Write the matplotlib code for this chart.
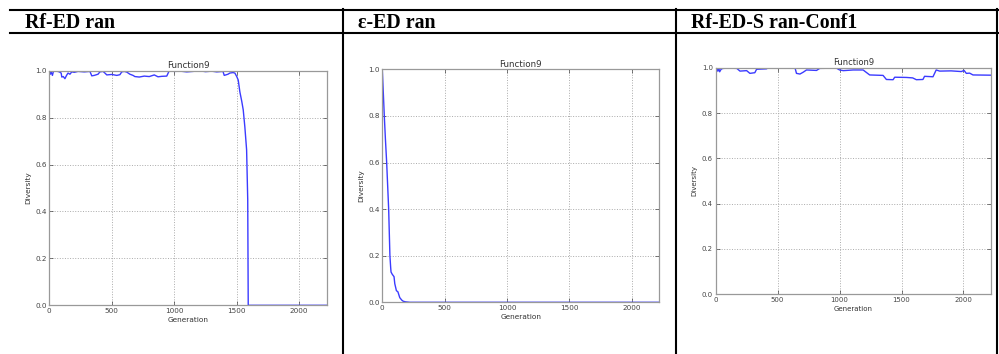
import matplotlib
matplotlib.use("Agg")
import matplotlib.pyplot as plt
from matplotlib.lines import Line2D

# --- Diversity per generation, three runs ---
headers = ["Rf-ED ran", "ε-ED ran", "Rf-ED-S ran-Conf1"]
plot_title = "Function9"

gen_rf = [0, 8, 15, 25, 32, 45, 60, 80, 95, 100, 112, 125, 138, 150, 165, 180, 200, 230,
          280, 325, 340, 360, 390, 405, 430, 445, 460, 500, 540, 565, 580, 600, 620, 645,
          670, 685, 720, 760, 800, 840, 870, 900, 940, 960, 1000, 1050, 1100, 1150, 1200,
          1250, 1300, 1340, 1390, 1400, 1430, 1445, 1470, 1485, 1500, 1512, 1525, 1540,
          1552, 1565, 1579, 1588, 1592, 1600, 1800, 2000, 2220]
div_rf = [1.0, 0.985, 0.995, 0.98, 0.995, 1.0, 0.998, 0.995, 0.99, 0.973, 0.975, 0.966, 0.98,
          0.99, 0.985, 0.995, 0.993, 0.997, 0.995, 0.997, 0.978, 0.98, 0.985, 0.995, 0.997,
          0.99, 0.982, 0.984, 0.98, 0.983, 0.995, 0.997, 0.994, 0.985, 0.98, 0.975, 0.973,
          0.977, 0.975, 0.982, 0.974, 0.976, 0.977, 1.0, 0.997, 0.998, 0.995, 0.997, 1.0,
          0.996, 0.998, 0.995, 0.997, 0.98, 0.985, 0.99, 0.992, 0.99, 0.975, 0.96, 0.91,
          0.87, 0.833, 0.76, 0.663, 0.45, 0.0, 0.0, 0.0, 0.0, 0.0]

gen_eps = [0, 8, 16, 25, 35, 43, 51, 61, 67, 70, 80, 94, 100, 113, 125, 140, 155, 166,
           185, 222, 400, 1000, 1500, 2220]
div_eps = [1.0, 0.9, 0.8, 0.7, 0.6, 0.5, 0.4, 0.2, 0.15, 0.13, 0.12, 0.11, 0.08, 0.05,
           0.045, 0.02, 0.01, 0.005, 0.002, 0.0, 0.0, 0.0, 0.0, 0.0]

gen_rfs = [0, 5, 10, 18, 25, 32, 40, 48, 62, 100, 170, 196, 250, 276, 316, 330, 410,
           425, 500, 640, 652, 680, 706, 733, 814, 840, 975, 1000, 1030, 1110, 1190,
           1243, 1351, 1378, 1432, 1445, 1540, 1590, 1620, 1673, 1686, 1754, 1780, 1808,
           1900, 1983, 2005, 2023, 2050, 2077, 2220]
div_rfs = [1.0, 0.98, 0.995, 0.985, 1.0, 0.982, 0.99, 0.995, 0.997, 0.998, 0.997, 0.985,
           0.987, 0.975, 0.978, 0.993, 0.995, 1.0, 0.999, 1.0, 0.975, 0.972, 0.98, 0.99,
           0.988, 0.997, 0.998, 0.99, 0.987, 0.99, 0.99, 0.968, 0.966, 0.948, 0.947,
           0.958, 0.957, 0.955, 0.947, 0.948, 0.962, 0.96, 0.99, 0.985, 0.986, 0.983,
           0.988, 0.975, 0.976, 0.968, 0.967]

xticks = [0, 500, 1000, 1500, 2000]
yticks = [0.0, 0.2, 0.4, 0.6, 0.8, 1.0]

W, H = 999, 354
fig = plt.figure(figsize=(W / 100, H / 100), dpi=100)
fig.patch.set_facecolor("white")


def px_axes(left, top, right, bottom):
    return fig.add_axes([left / W, 1 - bottom / H, (right - left) / W, (bottom - top) / H])


def hline(y, x0, x1):
    fig.add_artist(Line2D([x0 / W, x1 / W], [1 - y / H, 1 - y / H], color="black", lw=1.5))


def vline(x, y0, y1):
    fig.add_artist(Line2D([x / W, x / W], [1 - y0 / H, 1 - y1 / H], color="black", lw=1.5))


# table frame
hline(10, 10, 998)
hline(33, 10, 998)
for xv in (343, 676, 997):
    vline(xv, 9, 354)

for xt, txt in zip((25, 358, 691), headers):
    fig.text(xt / W, 1 - 28.3 / H, txt, fontsize=14.3, fontweight="bold",
             family="Liberation Serif", va="baseline", ha="left")

panels = [
    ((49.3, 70.7, 326.7, 305.3), gen_rf, div_rf, 1.0),
    ((382.3, 69.3, 659.3, 302.3), gen_eps, div_eps, 1.0),
    ((715.7, 67.7, 990.7, 294.3), gen_rfs, div_rfs, 0.96),
]

for box, gx, gy, sc in panels:
    ax = px_axes(*box)
    ax.plot(gx, gy, color="#3b3bff", lw=1.0)
    ax.set_xlim(0, 2220)
    ax.set_ylim(0, 1)
    ax.set_xticks(xticks)
    ax.set_yticks(yticks)
    ax.set_yticklabels([f"{v:.1f}" for v in yticks])
    ax.grid(True, color="#aaaaaa", linestyle=":", lw=0.7)
    ax.tick_params(direction="in", top=True, right=True, length=3, width=0.5,
                   labelsize=5.2 * sc, colors="#444444", pad=2)
    for s in ax.spines.values():
        s.set_color("#999999")
        s.set_linewidth(0.9)
    ax.set_title(plot_title, fontsize=6.3 * sc, color="#333333", pad=2)
    ax.set_xlabel("Generation", fontsize=5.3 * sc, color="#333333", labelpad=2)
    ax.set_ylabel("Diversity", fontsize=5.3 * sc, color="#333333", labelpad=3)

fig.savefig("out.png", dpi=100)
